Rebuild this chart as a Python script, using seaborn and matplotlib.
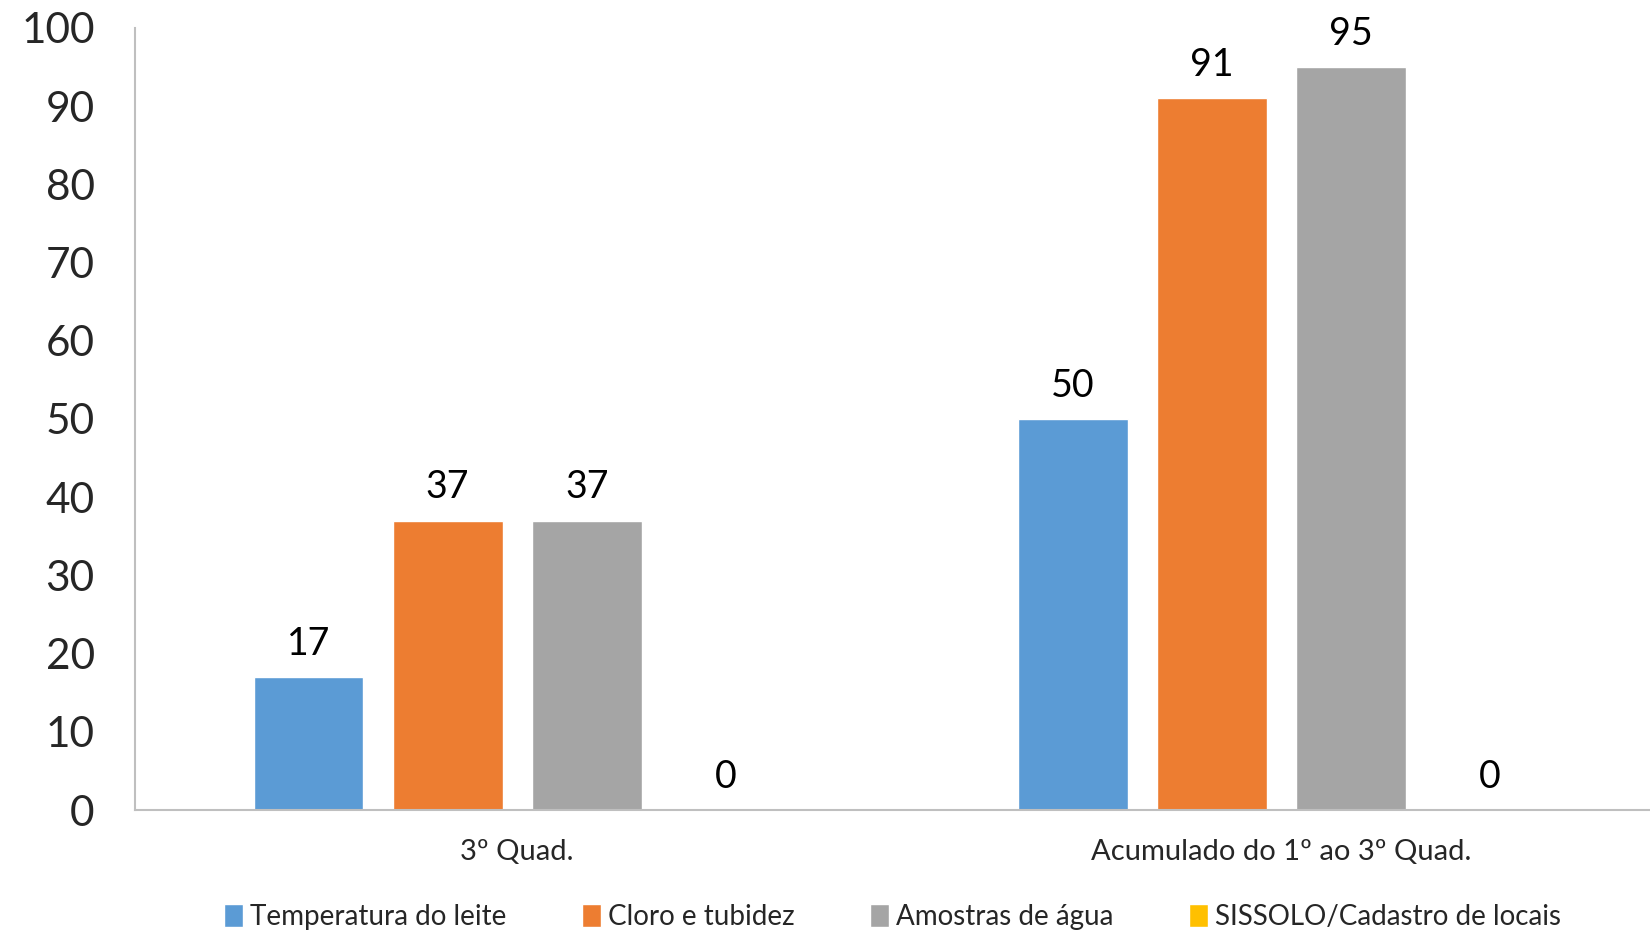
import matplotlib
matplotlib.use("Agg")
import matplotlib.pyplot as plt
import seaborn as sns
import pandas as pd

categories = ["3º Quad.", "Acumulado do 1º ao 3º Quad."]
series = ["Temperatura do leite", "Cloro e tubidez", "Amostras de água", "SISSOLO/Cadastro de locais"]
values = {
    "Temperatura do leite": [17, 50],
    "Cloro e tubidez": [37, 91],
    "Amostras de água": [37, 95],
    "SISSOLO/Cadastro de locais": [0, 0],
}
colors = ["#5B9BD5", "#ED7D31", "#A5A5A5", "#FFC000"]
yticks = [0, 10, 20, 30, 40, 50, 60, 70, 80, 90, 100]

rows = []
for s in series:
    for c, v in zip(categories, values[s]):
        rows.append({"cat": c, "serie": s, "val": v})
df = pd.DataFrame(rows)

sns.set_theme(style="white")
plt.rcParams["font.family"] = ["Lato", "DejaVu Sans"]

fig = plt.figure(figsize=(16.5, 9.3), dpi=100)
ax = fig.add_axes([0.0818, 0.129, 0.9182, 0.841])

sns.barplot(data=df, x="cat", y="val", hue="serie", hue_order=series,
            order=categories, palette=colors, width=0.728, gap=0.21,
            saturation=1, ax=ax, legend=True)

for cont in ax.containers:
    ax.bar_label(cont, fmt="%g", padding=11, fontsize=27, color="black")

ax.set_xlim(-0.5, 1.482)
ax.set_ylim(0, 100)
ax.set_yticks(yticks)
ax.set_yticklabels([str(t) for t in yticks], fontsize=30.5)
ax.tick_params(axis="y", length=0, pad=29)
ax.tick_params(axis="x", length=0, pad=21, labelsize=21)
ax.set_xlabel("")
ax.set_ylabel("")
for sp in ["top", "right"]:
    ax.spines[sp].set_visible(False)
for sp in ["left", "bottom"]:
    ax.spines[sp].set_color("#BFBFBF")
    ax.spines[sp].set_linewidth(1.5)
ax.grid(False)

handles, labels = ax.get_legend_handles_labels()
ax.legend(handles, labels, loc="center", bbox_to_anchor=(0.5, -0.137),
          ncol=4, frameon=False, fontsize=20, handlelength=0.7, handleheight=0.9,
          handletextpad=0.25, columnspacing=2.7)

fig.savefig("out.png", dpi=100)
